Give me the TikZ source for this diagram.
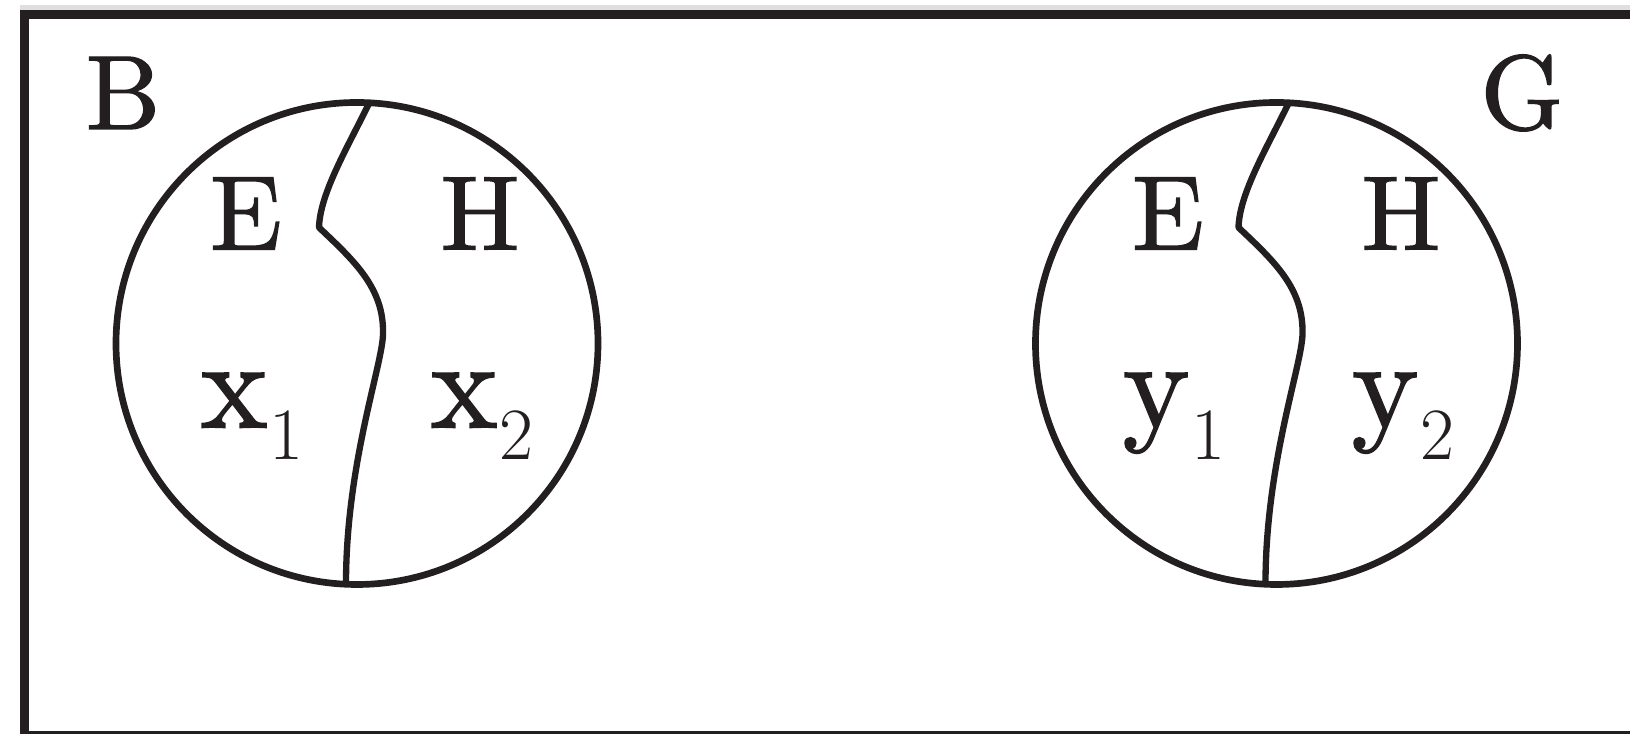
\documentclass[tikz,border=0pt]{standalone}
\usepackage{fontspec}
\usepackage{tikz}
\newfontfamily\heavy{lmroman10-regular.otf}[FakeBold=1.3]
\definecolor{ink}{HTML}{231F20}
\newcommand{\capsize}{\heavy\fontsize{30}{30}\selectfont}
\newcommand{\lowsub}[2]{{\heavy\fontsize{36}{36}\selectfont #1}\kern0.02cm{\rmfamily\fontsize{21}{21}\selectfont\raisebox{-0.32cm}{#2}}}
\tikzset{
  ring/.style={ink, line width=1.9pt},
  split/.style={ink, line width=1.8pt, line cap=round, line join=round},
  frame/.style={ink, line width=2.7pt},
  caplabel/.style={ink, inner sep=0pt, font=\capsize},
  lowlabel/.style={ink, inner sep=0pt, anchor=base west}
}
\begin{document}
\begin{tikzpicture}
\useasboundingbox (0,0) rectangle (16.3,7.34);
\clip (0,0) rectangle (16.3,7.34);
\fill[gray!25] (0.2,7.24) rectangle (16.3,7.29);
\draw[frame] (16.6,7.195) -- (0.245,7.195) -- (0.245,-0.02) -- (16.6,-0.02);
\foreach \cx in {3.57, 12.765} {
  \draw[ring] (\cx,3.905) circle (2.41);
  \begin{scope}[shift={(\cx,3.905)}]
    \draw[split] (0.12,2.40) .. controls (-0.10,1.95) and (-0.37,1.50) .. (-0.38,1.16)
      .. controls (-0.02,0.82) and (0.27,0.55) .. (0.26,0.10)
      .. controls (0.26,-0.20) and (-0.11,-1.20) .. (-0.11,-2.40);
  \end{scope}
}
\node[caplabel] (B) at (1.23,6.41) {B};
\node[caplabel] (G) at (15.22,6.41) {G};
\node[caplabel] (E1) at (2.46,5.205) {E};
\node[caplabel] (H1) at (4.80,5.205) {H};
\node[caplabel] (E2) at (11.68,5.205) {E};
\node[caplabel] (H2) at (14.01,5.205) {H};
\node[lowlabel] (x1) at (2.00,3.065) {\lowsub{x}{1}};
\node[lowlabel] (x2) at (4.30,3.065) {\lowsub{x}{2}};
\node[lowlabel] (y1) at (11.22,3.065) {\lowsub{y}{1}};
\node[lowlabel] (y2) at (13.51,3.065) {\lowsub{y}{2}};
\end{tikzpicture}
\end{document}
